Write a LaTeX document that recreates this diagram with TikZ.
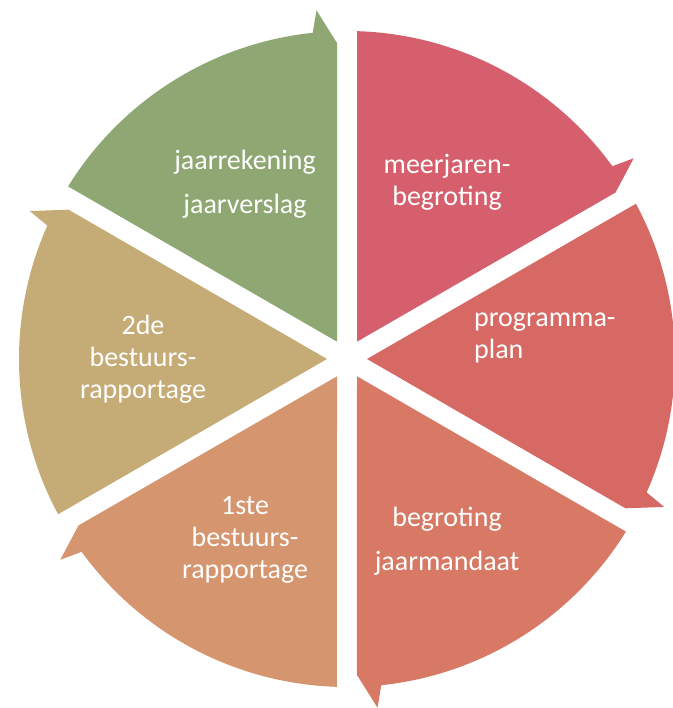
\documentclass[tikz,border=0pt]{standalone}
\usepackage{fontspec}
\setmainfont{Carlito}
\usetikzlibrary{calc}

\definecolor{segGreen}{RGB}{143,167,114}
\definecolor{segRose}{RGB}{213,95,108}
\definecolor{segRed}{RGB}{214,105,100}
\definecolor{segCoral}{RGB}{215,121,101}
\definecolor{segSand}{RGB}{213,149,110}
\definecolor{segOlive}{RGB}{197,172,118}

\tikzset{
  label/.style={text=white,font=\fontsize{28}{32}\selectfont,align=center,inner sep=0pt}
}

\begin{document}
\begin{tikzpicture}[x=1pt,y=1pt]
  \useasboundingbox (-347,-349) rectangle (325,359);
  \fill[white] (-347,-349) rectangle (325,359);

  \def\R{328}
  % six segments, each with its barb at the clockwise end
  \foreach \a/\col in {150/segGreen,90/segRose,30/segRed,-30/segCoral,-90/segSand,-150/segOlive} {
    \pgfmathsetmacro\b{\a-60}
    \fill[\col] (\a-30:20) -- (\a-1.75:\R)
      arc[start angle=\a-1.75, end angle=\b+6, radius=\R]
      -- (\b+5:\R+22) -- (\b+1.8:\R-12) -- cycle;
  }

  \node[label] (jaar) at (-102,175) {jaarrekening\\[12pt]jaarverslag};
  \node[label] (meerjaren) at (100,177) {meerjaren-\\begroting};
  \node[label,align=left,anchor=west] (programma) at (127,21) {programma-\\plan};
  \node[label] (begroting) at (100,-182) {begroting\\[12pt]jaarmandaat};
  \node[label] (eerste) at (-102,-181) {1ste\\bestuurs-\\rapportage};
  \node[label] (tweede) at (-204,0) {2de\\bestuurs-\\rapportage};
\end{tikzpicture}
\end{document}
